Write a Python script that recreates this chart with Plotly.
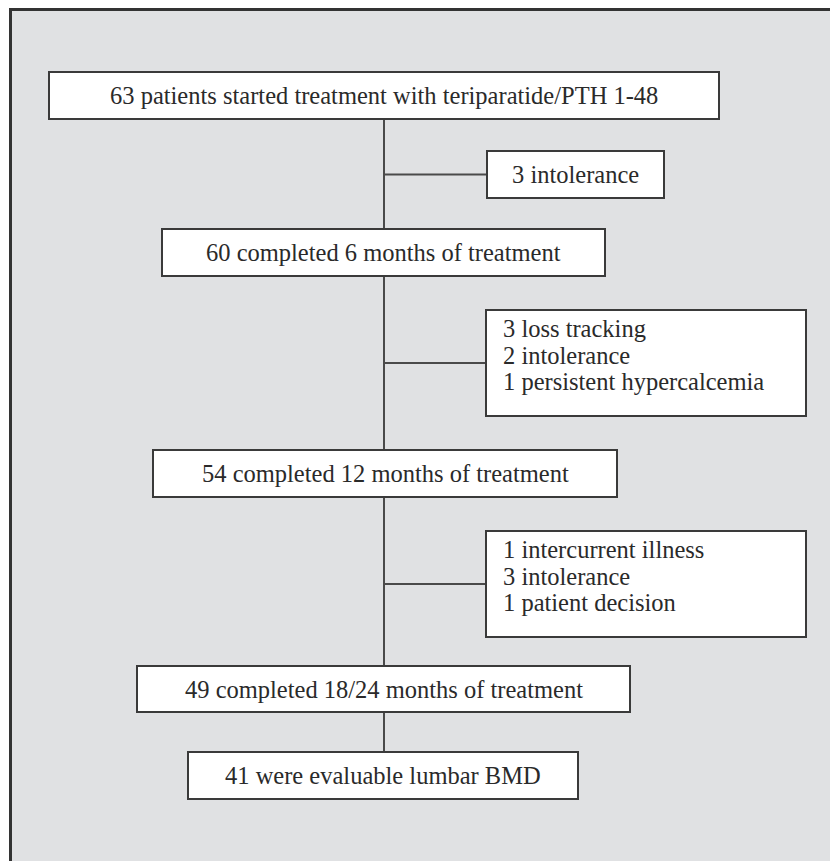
"""Flujo de pacientes en tratamiento con teriparatide/PTH 1-84 (flowchart)."""

import plotly.graph_objects as go

# --- datos ---
main_steps = [
    "63 patients started treatment with teriparatide/PTH 1-48",
    "60 completed 6 months of treatment",
    "54 completed 12 months of treatment",
    "49 completed 18/24 months of treatment",
    "41 were evaluable lumbar BMD",
]
dropouts = [
    ["3 intolerance"],
    ["3 loss tracking", "2 intolerance", "1 persistent hypercalcemia"],
    ["1 intercurrent illness", "3 intolerance", "1 patient decision"],
]

# --- geometría (px de página, eje y hacia abajo) ---
main_boxes = [
    (49, 719, 72, 119),
    (162, 605, 229, 276),
    (153, 617, 450, 497),
    (137, 630, 666, 712),
    (188, 578, 752, 799),
]
side_boxes = [
    (487, 664, 151, 198),
    (486, 806, 310, 416),
    (486, 806, 531, 637),
]
spine_x = 384
line_gap = 26.5
OFF = 8  # margen del body del html
W, H = 838 - OFF, 861 - OFF

TXT = "#2a2a2a"
EDGE = "#3a3a3a"
FONT = "Liberation Serif, Times New Roman, serif"


def px(v):
    return v - OFF


fig = go.Figure()
shapes = []
annotations = []

# panel gris con borde
shapes.append(dict(type="rect", x0=px(10.5), x1=W + 5, y0=px(9.5), y1=H + 5,
                   fillcolor="#e0e1e3", line=dict(color="#333333", width=3)))

# eje vertical
shapes.append(dict(type="line", x0=px(spine_x), x1=px(spine_x),
                   y0=px(main_boxes[0][3]), y1=px(main_boxes[-1][2]),
                   line=dict(color="#4a4a4a", width=2)))

# ramas horizontales
for (x0, x1, y0, y1) in side_boxes:
    ym = px((y0 + y1) / 2)
    shapes.append(dict(type="line", x0=px(spine_x), x1=px(x0), y0=ym, y1=ym,
                       line=dict(color="#4a4a4a", width=2)))

# cajas principales
for label, (x0, x1, y0, y1) in zip(main_steps, main_boxes):
    shapes.append(dict(type="rect", x0=px(x0), x1=px(x1), y0=px(y0), y1=px(y1),
                       fillcolor="white", line=dict(color=EDGE, width=2)))
    annotations.append(dict(x=px((x0 + x1) / 2), y=px((y0 + y1) / 2), text=label,
                            showarrow=False, xanchor="center", yanchor="middle",
                            font=dict(family=FONT, size=24.5, color=TXT)))

# cajas de abandonos
for lines, (x0, x1, y0, y1) in zip(dropouts, side_boxes):
    shapes.append(dict(type="rect", x0=px(x0), x1=px(x1), y0=px(y0), y1=px(y1),
                       fillcolor="white", line=dict(color=EDGE, width=2)))
    if len(lines) == 1:
        annotations.append(dict(x=px((x0 + x1) / 2), y=px((y0 + y1) / 2),
                                text=lines[0],
                                showarrow=False, xanchor="center", yanchor="middle",
                                font=dict(family=FONT, size=24.5, color=TXT)))
    else:
        yc = (y0 + y1) / 2 - 8
        n = len(lines)
        for i, t in enumerate(lines):
            annotations.append(dict(x=px(x0 + 15), y=px(yc + (i - (n - 1) / 2) * line_gap),
                                    text=t, align="left",
                                    showarrow=False, xanchor="left", yanchor="middle",
                                    font=dict(family=FONT, size=24.5, color=TXT)))

fig.update_layout(
    width=W, height=H,
    margin=dict(l=0, r=0, t=0, b=0),
    paper_bgcolor="white", plot_bgcolor="white",
    xaxis=dict(range=[0, W], visible=False, fixedrange=True),
    yaxis=dict(range=[H, 0], visible=False, fixedrange=True),
    shapes=shapes, annotations=annotations,
    showlegend=False,
)

fig.write_html("out.html", config={"displayModeBar": False})
